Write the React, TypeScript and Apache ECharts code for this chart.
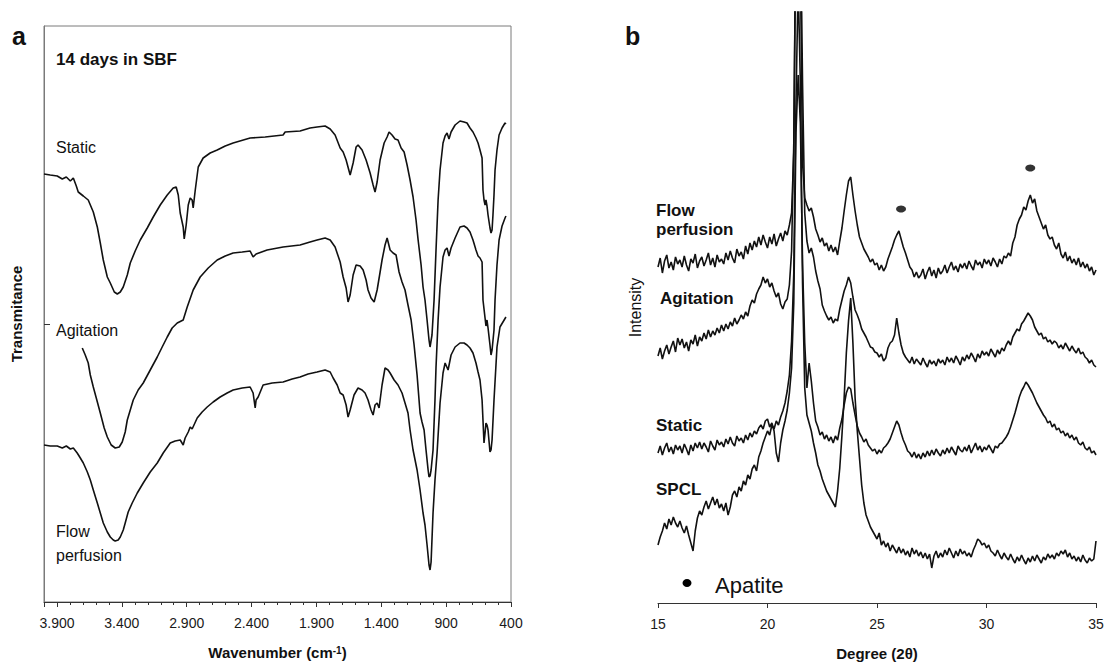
import { useEffect, useRef } from "react";
import * as echarts from "echarts";

const FONT = "'Liberation Sans', Arial, Helvetica, sans-serif";

// ---------- Panel a: FTIR (wavenumber cm-1, transmittance a.u.) ----------
const ftirStatic: [number, number][] = [
  [4000,428],[3952,427],[3898,426],[3859,423],[3828,425],[3797,421],[3774,424],[3751,416],[3736,410],[3697,406],[3659,402],[3620,390],[3589,375],[3566,359],[3543,342],[3512,325],[3489,319],[3458,310],[3435,308],[3412,310],[3389,315],[3358,327],[3335,339],[3297,351],[3258,362],[3204,374],[3158,385],[3104,397],[3050,407],[3004,414],[2981,415],[2965,407],[2950,389],[2927,375],[2919,363],[2904,377],[2888,397],[2873,404],[2858,402],[2850,394],[2834,412],[2811,435],[2773,444],[2719,449],[2665,452],[2603,456],[2542,459],[2411,464],[2295,465],[2157,467],[2141,470],[2026,471],[1949,474],[1895,475],[1833,476],[1794,473],[1756,467],[1717,454],[1694,450],[1671,442],[1640,427],[1617,439],[1594,455],[1579,457],[1548,452],[1517,442],[1486,429],[1463,417],[1448,410],[1432,420],[1409,442],[1378,459],[1355,465],[1340,470],[1317,467],[1294,463],[1271,462],[1247,454],[1224,450],[1201,437],[1178,422],[1155,405],[1132,382],[1116,362],[1093,337],[1078,315],[1063,302],[1047,282],[1032,262],[1024,255],[1009,267],[993,302],[978,352],[962,402],[947,432],[924,459],[908,466],[893,469],[878,463],[862,470],[831,477],[793,481],[762,480],[739,479],[716,474],[693,470],[670,464],[654,459],[639,452],[623,444],[616,412],[608,402],[600,397],[593,402],[585,396],[577,387],[562,374],[554,369],[546,372],[539,387],[531,407],[523,432],[508,452],[492,467],[469,474],[446,479],[439,478]
];

const ftirAgitation: [number, number][] = [
  [3705,254],[3682,247],[3659,239],[3643,227],[3620,215],[3597,204],[3566,189],[3536,174],[3512,165],[3482,157],[3451,154],[3420,155],[3397,160],[3374,170],[3358,182],[3335,192],[3312,202],[3274,212],[3235,219],[3181,232],[3127,245],[3089,255],[3050,265],[3012,274],[2973,279],[2927,282],[2896,295],[2850,312],[2796,325],[2734,334],[2665,342],[2603,346],[2542,349],[2472,350],[2411,351],[2388,345],[2365,348],[2280,352],[2157,355],[2026,357],[1949,360],[1895,362],[1833,364],[1794,362],[1756,355],[1717,340],[1694,325],[1671,314],[1656,300],[1640,307],[1617,327],[1594,337],[1563,336],[1540,332],[1517,322],[1502,312],[1479,304],[1455,300],[1432,312],[1409,330],[1394,342],[1371,357],[1355,364],[1332,352],[1309,349],[1286,347],[1263,330],[1240,320],[1217,312],[1194,297],[1170,282],[1147,257],[1124,227],[1101,189],[1086,180],[1070,172],[1055,152],[1039,132],[1032,125],[1024,126],[1016,132],[1001,152],[986,202],[978,235],[962,282],[947,315],[924,345],[908,352],[893,354],[878,346],[862,354],[831,364],[793,375],[762,376],[739,374],[716,370],[693,362],[670,352],[654,346],[639,344],[623,340],[616,302],[600,284],[593,276],[585,282],[577,274],[562,257],[554,247],[546,252],[531,272],[523,302],[508,337],[492,362],[469,376],[446,384],[439,386]
];

const ftirFlow: [number, number][] = [
  [4000,157],[3952,156],[3898,156],[3859,154],[3828,156],[3797,153],[3774,154],[3744,149],[3720,144],[3697,139],[3666,130],[3643,122],[3620,112],[3589,99],[3566,89],[3543,79],[3512,70],[3489,65],[3466,62],[3451,61],[3428,62],[3412,65],[3389,72],[3374,79],[3351,90],[3320,99],[3281,109],[3235,119],[3181,130],[3127,139],[3081,149],[3027,159],[2989,161],[2950,162],[2927,157],[2912,164],[2888,170],[2873,175],[2858,173],[2819,184],[2781,190],[2742,195],[2696,200],[2642,205],[2588,209],[2542,212],[2472,214],[2411,215],[2388,209],[2372,194],[2365,202],[2349,205],[2311,217],[2241,219],[2157,220],[2087,223],[2026,225],[1964,228],[1895,230],[1833,232],[1794,230],[1771,224],[1740,217],[1717,209],[1694,207],[1671,197],[1656,185],[1640,192],[1610,207],[1579,214],[1548,212],[1525,209],[1502,202],[1479,192],[1463,187],[1448,197],[1432,199],[1417,194],[1394,217],[1371,234],[1348,232],[1332,229],[1301,222],[1271,217],[1240,209],[1217,199],[1194,189],[1178,172],[1155,152],[1124,132],[1101,112],[1078,89],[1063,77],[1047,57],[1032,37],[1024,32],[1016,40],[1001,89],[986,122],[970,149],[947,199],[924,229],[908,239],[885,232],[862,247],[831,255],[793,259],[762,259],[739,257],[716,254],[693,249],[670,239],[654,230],[639,222],[623,202],[608,159],[600,169],[593,179],[585,177],[577,172],[562,150],[554,152],[546,162],[531,202],[508,255],[485,275],[462,280],[439,285]
];

// ---------- Panel b: XRD (degree 2θ, intensity a.u.), sampled every 0.1° ----------
const xrdDegrees: number[] = Array.from({ length: 201 }, (_, i) => Math.round((15 + i * 0.1) * 10) / 10);

const xrdFlow: number[] = [
  336,345,330,342,348,335,341,333,346,339,
  343,336,347,338,332,344,340,349,335,342,
  346,337,343,350,338,345,336,348,341,344,
  339,350,343,352,345,340,354,347,351,344,
  357,349,360,353,362,356,366,358,368,361,
  355,366,359,369,357,364,370,362,372,368,
  378,390,450,700,700,640,440,405,398,392,
  395,386,374,368,361,365,357,360,352,358,
  351,356,348,362,375,392,408,422,426,408,
  392,378,366,360,354,350,346,341,344,338,
  340,333,338,332,336,344,350,356,363,368,
  372,364,356,350,343,336,333,326,331,325,
  328,334,324,331,336,327,333,325,335,329,
  332,338,330,336,341,333,337,331,339,335,
  340,334,342,337,333,343,338,341,335,344,
  339,343,337,345,341,336,344,339,347,345,
  350,347,360,366,378,384,388,396,393,402,
  408,400,404,392,386,380,374,378,368,364,
  366,358,354,360,349,345,351,342,347,340,
  344,338,345,336,341,335,339,332,336,328,
  333
];

const xrdAgitation: number[] = [
  247,255,244,252,258,249,256,262,251,265,
  258,264,255,261,252,263,259,268,257,266,
  262,270,264,273,266,272,268,275,270,278,
  272,279,274,281,277,285,279,283,288,284,
  291,287,297,303,300,309,314,318,326,320,
  324,316,320,312,306,310,299,294,301,304,
  318,352,460,700,700,700,520,390,362,350,
  355,346,332,322,314,298,292,287,283,286,
  280,284,282,294,303,312,318,326,320,306,
  293,288,282,274,270,266,261,256,255,251,
  250,246,249,242,245,255,260,262,268,285,
  270,258,250,246,243,240,246,239,244,241,
  238,245,240,236,243,239,242,237,244,240,
  243,238,246,241,245,240,247,243,238,246,
  242,248,244,250,246,241,249,245,252,248,
  251,247,254,250,246,253,249,255,252,258,
  262,258,266,270,274,272,279,282,286,290,
  287,283,276,272,268,270,264,266,261,263,
  259,262,260,255,258,254,260,256,252,257,
  253,250,255,249,251,246,244,240,243,238,
  236
];

const xrdStatic: number[] = [
  150,157,148,155,160,151,156,149,158,153,
  157,150,159,154,148,158,152,160,155,161,
  154,160,156,151,162,157,153,163,158,161,
  156,164,159,166,160,157,167,162,165,160,
  168,163,170,166,172,169,175,178,174,182,
  184,176,180,172,150,141,160,173,182,193,
  210,235,300,470,528,480,340,260,215,240,
  222,200,182,176,168,171,164,168,162,166,
  160,167,163,175,184,198,210,216,214,200,
  188,177,170,166,161,164,158,155,152,154,
  149,153,150,155,157,160,164,170,176,182,
  178,170,163,158,152,150,146,151,145,149,
  144,150,146,152,147,153,148,154,150,147,
  153,149,155,150,156,152,148,157,153,151,
  156,152,158,150,155,160,153,157,151,156,
  153,158,154,150,157,155,159,160,163,166,
  170,176,183,190,198,206,212,216,221,218,
  214,210,205,200,196,192,188,185,180,182,
  176,179,173,175,170,172,167,170,165,168,
  163,166,160,158,161,155,153,156,150,152,
  148
];

const xrdSPCL: number[] = [
  58,66,72,80,74,84,78,86,80,76,
  82,75,70,77,68,60,52,72,85,92,
  88,96,102,94,100,106,98,104,95,99,
  92,100,88,96,108,112,106,116,112,122,
  118,128,124,134,138,132,146,152,160,166,
  172,168,178,174,182,178,186,192,200,212,
  228,262,330,500,620,520,320,215,188,180,
  172,160,150,138,132,124,118,112,108,104,
  100,96,112,135,168,205,250,282,305,260,
  205,172,145,118,100,88,82,76,72,68,
  64,70,58,62,56,60,52,58,54,50,
  56,50,54,48,52,46,55,49,53,47,
  51,45,50,44,49,35,47,52,45,50,
  46,53,48,55,50,45,52,47,54,49,
  52,47,50,46,53,58,64,62,58,60,
  55,58,52,50,47,53,48,44,50,46,
  43,49,44,40,46,42,48,43,39,45,
  41,47,42,48,44,40,46,43,49,45,
  48,44,50,47,52,49,53,46,50,44,
  47,42,46,41,48,43,40,45,42,44,
  62
];

// Apatite reflections marked with a dot above the Flow perfusion pattern
const apatiteMarks: [number, number][] = [[26.1, 394], [32.0, 435]];

const pair = (vals: number[]) => xrdDegrees.map((d, i) => [d, vals[i]]);

function fmtWavenumber(v: number): string {
  if (v > 3950) return "";
  if (v >= 1000) {
    const th = Math.floor(v / 1000);
    const rest = String(Math.round(v % 1000)).padStart(3, "0");
    return `${th}.${rest}`;
  }
  return String(v);
}

const ink = "#111";

export default function App() {
  const ref = useRef<HTMLDivElement>(null);

  useEffect(() => {
    if (!ref.current) return;
    const chart = echarts.init(ref.current, undefined, { renderer: "svg" });

    const lineSeries = (name: string, data: any[], xi: number, width: number) => ({
      name,
      type: "line",
      xAxisIndex: xi,
      yAxisIndex: xi,
      data,
      symbol: "none",
      showSymbol: false,
      clip: true,
      lineStyle: { color: ink, width },
      emphasis: { disabled: true },
      z: 3,
    });

    const txt = (text: string, x: number, y: number, size: number, weight: string = "normal") => ({
      type: "text",
      x,
      y,
      silent: true,
      style: {
        text,
        fill: "#111",
        fontFamily: FONT,
        fontSize: size,
        fontWeight: weight,
        verticalAlign: "middle",
        align: "left",
      },
    });

    chart.setOption({
      animation: false,
      backgroundColor: "#ffffff",
      textStyle: { fontFamily: FONT },
      grid: [
        { left: 44, top: 26, width: 467, height: 576, show: true, borderColor: "#7a7a7a", borderWidth: 1, backgroundColor: "transparent", containLabel: false, outerBoundsMode: "none" },
        { left: 658, top: 12, width: 438, height: 591, containLabel: false, outerBoundsMode: "none" },
      ],
      xAxis: [
        {
          gridIndex: 0,
          type: "value",
          min: 400,
          max: 4000,
          interval: 500,
          inverse: true,
          name: "Wavenumber (cm{sup|-1})",
          nameLocation: "middle",
          nameGap: 43,
          nameTextStyle: {
            fontFamily: FONT,
            fontSize: 15,
            fontWeight: "bold",
            color: "#111",
            rich: { sup: { fontFamily: FONT, fontSize: 10, fontWeight: "bold", color: "#111", verticalAlign: "top", lineHeight: 10 } },
          },
          axisLine: { show: true, onZero: false, lineStyle: { color: "#333", width: 1 } },
          axisTick: { show: true, length: 5, lineStyle: { color: "#333" } },
          minorTick: { show: true, splitNumber: 5, length: 3, lineStyle: { color: "#333" } },
          splitLine: { show: false },
          minorSplitLine: { show: false },
          axisLabel: { formatter: fmtWavenumber, fontFamily: FONT, fontSize: 14, color: "#1a1a1a", margin: 14 },
        },
        {
          gridIndex: 1,
          type: "value",
          min: 15,
          max: 35,
          interval: 5,
          name: "Degree (2θ)",
          nameLocation: "middle",
          nameGap: 43,
          nameTextStyle: { fontFamily: FONT, fontSize: 15, fontWeight: "bold", color: "#111" },
          axisLine: { show: true, onZero: false, lineStyle: { color: "#333", width: 1 } },
          axisTick: { show: true, length: 5, lineStyle: { color: "#333" } },
          splitLine: { show: false },
          axisLabel: { fontFamily: FONT, fontSize: 14, color: "#1a1a1a", margin: 14 },
        },
      ],
      yAxis: [
        {
          gridIndex: 0,
          type: "value",
          min: 0,
          max: 576,
          name: "Transmitance",
          nameLocation: "middle",
          nameRotate: 90,
          nameGap: 20,
          nameTextStyle: { fontFamily: FONT, fontSize: 15, fontWeight: "bold", color: "#111" },
          axisLine: { show: true, lineStyle: { color: "#7a7a7a" } },
          axisTick: { show: true, inside: true, length: 6, customValues: [278], lineStyle: { color: "#333" } },
          axisLabel: { show: false },
          splitLine: { show: false },
        },
        {
          gridIndex: 1,
          type: "value",
          min: 0,
          max: 591,
          name: "Intensity",
          nameLocation: "middle",
          nameRotate: 90,
          nameGap: 15,
          nameTextStyle: { fontFamily: FONT, fontSize: 16, color: "#111" },
          axisLine: { show: false },
          axisTick: { show: false },
          axisLabel: { show: false },
          splitLine: { show: false },
        },
      ],
      series: [
        lineSeries("Static (FTIR)", ftirStatic, 0, 1.6),
        lineSeries("Agitation (FTIR)", ftirAgitation, 0, 1.6),
        lineSeries("Flow perfusion (FTIR)", ftirFlow, 0, 1.6),
        lineSeries("Flow perfusion (XRD)", pair(xrdFlow), 1, 1.6),
        lineSeries("Agitation (XRD)", pair(xrdAgitation), 1, 1.6),
        lineSeries("Static (XRD)", pair(xrdStatic), 1, 1.6),
        lineSeries("SPCL (XRD)", pair(xrdSPCL), 1, 1.6),
        {
          name: "Apatite",
          type: "scatter",
          xAxisIndex: 1,
          yAxisIndex: 1,
          data: apatiteMarks,
          symbol: "circle",
          symbolSize: [10, 7],
          itemStyle: { color: "#000" },
          silent: true,
          z: 4,
        },
      ],
      graphic: [
        txt("a", 12, 36, 25, "bold"),
        txt("b", 625, 36, 25, "bold"),
        txt("14 days in SBF", 56, 59, 17, "bold"),
        txt("Static", 56, 147, 16),
        txt("Agitation", 56, 330, 16),
        txt("Flow", 56, 531, 16),
        txt("perfusion", 56, 555, 16),
        txt("Flow", 656, 210, 17, "bold"),
        txt("perfusion", 656, 229, 17, "bold"),
        txt("Agitation", 660, 298, 17, "bold"),
        txt("Static", 656, 425, 17, "bold"),
        txt("SPCL", 656, 489, 17, "bold"),
        { type: "ellipse", silent: true, shape: { cx: 687, cy: 583, rx: 4.5, ry: 4 }, style: { fill: "#000" } },
        txt("Apatite", 715, 585, 22),
      ],
    });

    return () => chart.dispose();
  }, []);

  return <div ref={ref} style={{ position: "absolute", left: 0, top: 0, width: 1105, height: 665 }} />;
}
